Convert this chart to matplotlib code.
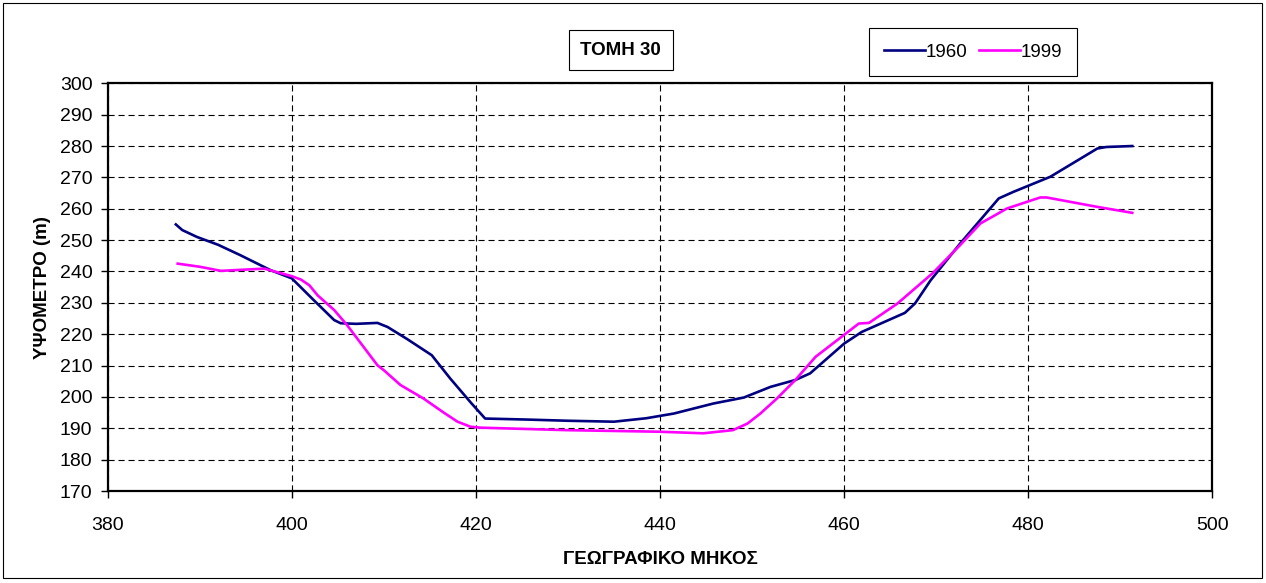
import matplotlib
matplotlib.use('Agg')
import matplotlib.pyplot as plt
from matplotlib.patches import Rectangle

plt.rcParams['font.family'] = ['Liberation Sans', 'DejaVu Sans']

# ΤΟΜΗ 30 - 1960
x_1960 = [387.4, 388.1, 389.7, 392.0, 394.4, 397.7, 400.0, 402.4, 404.6, 405.3, 407.0,
          409.3, 410.4, 412.5, 415.2, 417.2, 419.5, 421.0, 425.3, 430.0, 435.0, 438.5,
          441.5, 445.8, 449.1, 452.0, 454.7, 456.3, 460.0, 461.9, 466.6, 467.7, 469.4,
          472.6, 476.8, 478.4, 482.4, 487.5, 488.5, 491.3]
y_1960 = [255.0, 253.2, 251.0, 248.5, 245.2, 240.4, 237.8, 230.8, 224.5, 223.5, 223.3,
          223.6, 222.3, 218.5, 213.3, 205.9, 198.0, 193.1, 192.8, 192.4, 192.1, 193.2,
          194.7, 197.9, 199.8, 203.2, 205.4, 207.5, 217.0, 220.7, 226.8, 229.8, 237.2,
          248.9, 263.3, 265.4, 270.2, 279.2, 279.7, 280.0]

# ΤΟΜΗ 30 - 1999
x_1999 = [387.6, 390.0, 392.3, 397.0, 400.0, 401.0, 401.9, 402.8, 404.6, 406.0, 409.3,
          410.0, 411.8, 414.3, 416.5, 418.0, 419.4, 420.5, 429.9, 440.0, 444.7, 447.9,
          449.5, 450.9, 452.7, 454.7, 456.9, 461.6, 462.7, 465.8, 469.6, 472.6, 474.8,
          477.7, 481.3, 482.0, 487.5, 491.3]
y_1999 = [242.5, 241.5, 240.2, 240.9, 238.5, 237.4, 235.6, 232.4, 227.7, 222.9, 210.1,
          208.5, 203.8, 199.5, 195.0, 192.1, 190.5, 190.2, 189.4, 188.9, 188.4, 189.4,
          191.5, 194.7, 199.5, 205.4, 212.8, 223.4, 223.6, 229.8, 239.4, 248.4, 255.3,
          260.1, 263.6, 263.6, 260.6, 258.7]

fig = plt.figure(figsize=(12.66, 5.83), dpi=100)
ax = fig.add_axes([0.0851, 0.1578, 0.8725, 0.6993])

ax.plot(x_1960, y_1960, color='#000080', linewidth=1.9, label='1960')
ax.plot(x_1999, y_1999, color='#FF00FF', linewidth=1.9, label='1999')

ax.set_xlim(380, 500)
ax.set_ylim(170, 300)
ax.set_xticks(range(380, 501, 20))
ax.set_yticks(range(170, 301, 10))
ax.grid(True, color='black', linestyle=(0, (5.5, 3.5)), linewidth=0.8)
ax.tick_params(axis='both', labelsize=14, direction='out', length=5, width=1, color='black')
ax.tick_params(axis='x', pad=14)
ax.tick_params(axis='y', pad=6)
for s in ax.spines.values():
    s.set_linewidth(1.6)

ax.set_xlabel('ΓΕΩΓΡΑΦΙΚΟ ΜΗΚΟΣ', fontsize=13.5, fontweight='bold', labelpad=12)
ax.set_ylabel('ΥΨΟΜΕΤΡΟ (m)', fontsize=13.5, fontweight='bold', labelpad=6)

fig.text(620.5 / 1266, 1 - 50.3 / 583, 'ΤΟΜΗ 30', fontsize=13.5, fontweight='bold',
         ha='center', va='center',
         bbox=dict(boxstyle='square,pad=0.62', facecolor='white', edgecolor='black', linewidth=0.8))

leg = ax.legend(loc='center', bbox_to_anchor=(973 / 1266, 1 - 52 / 583),
                bbox_transform=fig.transFigure, ncol=2, fontsize=13.5, frameon=True,
                fancybox=False, edgecolor='black', framealpha=1, handlelength=2.2,
                handletextpad=0.05, columnspacing=0.6, borderpad=0.8, borderaxespad=0)
leg.get_frame().set_linewidth(0.8)

fig.patches.append(Rectangle((3 / 1266, 5 / 583), 1259 / 1266, 575 / 583, transform=fig.transFigure,
                             fill=False, edgecolor='black', linewidth=0.8))

plt.savefig('out.png', dpi=100)
